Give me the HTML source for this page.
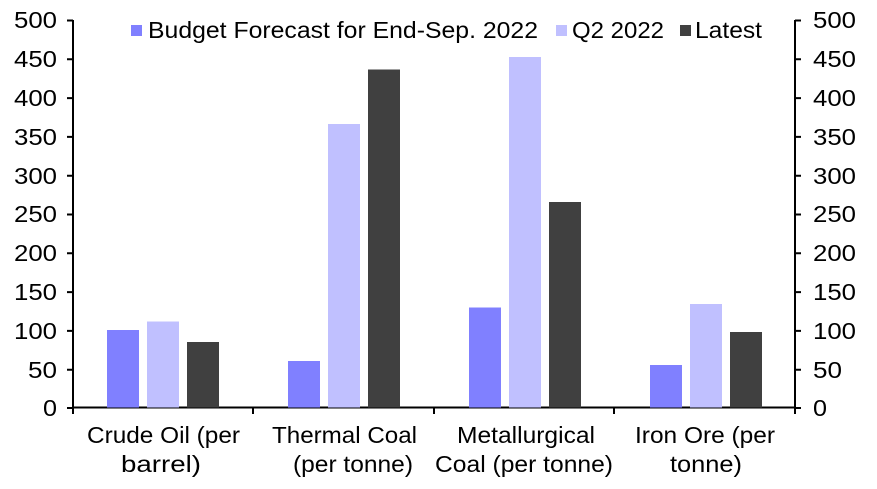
<!DOCTYPE html>
<html><head><meta charset="utf-8"><style>
body{margin:0;background:#fff}
svg{display:block;font-family:"Liberation Sans",Arial,sans-serif}
</style></head><body>
<svg width="877" height="489" xmlns="http://www.w3.org/2000/svg">
<g stroke="#000" stroke-width="2" fill="none">
<line x1="73" y1="20" x2="73" y2="408"/>
<line x1="795" y1="20" x2="795" y2="408"/>
<line x1="72" y1="407.5" x2="796" y2="407.5"/>
<path d="M67 20.5H73M67 59.3H73M67 98.1H73M67 136.9H73M67 175.7H73M67 214.5H73M67 253.3H73M67 292.1H73M67 330.9H73M67 369.7H73M67 408H73"/>
<path d="M795 20.5H801M795 59.3H801M795 98.1H801M795 136.9H801M795 175.7H801M795 214.5H801M795 253.3H801M795 292.1H801M795 330.9H801M795 369.7H801M795 408H801"/>
<path d="M73 408V414M253 408V414M434 408V414M614 408V414M795 408V414"/>
</g>
<g font-size="23" fill="#000">
<g text-anchor="end">
<text x="57" y="28" textLength="43" lengthAdjust="spacingAndGlyphs">500</text><text x="57" y="67" textLength="43" lengthAdjust="spacingAndGlyphs">450</text><text x="57" y="106" textLength="43" lengthAdjust="spacingAndGlyphs">400</text><text x="57" y="145" textLength="43" lengthAdjust="spacingAndGlyphs">350</text><text x="57" y="184" textLength="43" lengthAdjust="spacingAndGlyphs">300</text><text x="57" y="222" textLength="43" lengthAdjust="spacingAndGlyphs">250</text><text x="57" y="261" textLength="43" lengthAdjust="spacingAndGlyphs">200</text><text x="57" y="300" textLength="43" lengthAdjust="spacingAndGlyphs">150</text><text x="57" y="339" textLength="43" lengthAdjust="spacingAndGlyphs">100</text><text x="57" y="378" textLength="29" lengthAdjust="spacingAndGlyphs">50</text><text x="57" y="416" textLength="14" lengthAdjust="spacingAndGlyphs">0</text>
</g>
<g>
<text x="813" y="28" textLength="43" lengthAdjust="spacingAndGlyphs">500</text><text x="813" y="67" textLength="43" lengthAdjust="spacingAndGlyphs">450</text><text x="813" y="106" textLength="43" lengthAdjust="spacingAndGlyphs">400</text><text x="813" y="145" textLength="43" lengthAdjust="spacingAndGlyphs">350</text><text x="813" y="184" textLength="43" lengthAdjust="spacingAndGlyphs">300</text><text x="813" y="222" textLength="43" lengthAdjust="spacingAndGlyphs">250</text><text x="813" y="261" textLength="43" lengthAdjust="spacingAndGlyphs">200</text><text x="813" y="300" textLength="43" lengthAdjust="spacingAndGlyphs">150</text><text x="813" y="339" textLength="43" lengthAdjust="spacingAndGlyphs">100</text><text x="813" y="378" textLength="29" lengthAdjust="spacingAndGlyphs">50</text><text x="813" y="416" textLength="14" lengthAdjust="spacingAndGlyphs">0</text>
</g>
<text x="87" y="443" textLength="153" lengthAdjust="spacingAndGlyphs">Crude Oil (per</text><text x="121" y="472" textLength="80" lengthAdjust="spacingAndGlyphs">barrel)</text>
<text x="272" y="443" textLength="145" lengthAdjust="spacingAndGlyphs">Thermal Coal</text><text x="293" y="472" textLength="120" lengthAdjust="spacingAndGlyphs">(per tonne)</text>
<text x="457" y="443" textLength="138" lengthAdjust="spacingAndGlyphs">Metallurgical</text><text x="435" y="472" textLength="178" lengthAdjust="spacingAndGlyphs">Coal (per tonne)</text>
<text x="635" y="443" textLength="140" lengthAdjust="spacingAndGlyphs">Iron Ore (per</text><text x="670" y="472" textLength="72" lengthAdjust="spacingAndGlyphs">tonne)</text>
<rect x="131" y="25" width="11" height="11" fill="#8080ff"/><text x="148" y="38" textLength="390" lengthAdjust="spacingAndGlyphs">Budget Forecast for End-Sep. 2022</text>
<rect x="556" y="25" width="11" height="11" fill="#c0c0ff"/><text x="572" y="38" textLength="92" lengthAdjust="spacingAndGlyphs">Q2 2022</text>
<rect x="680" y="25" width="11" height="11" fill="#404040"/><text x="695" y="38" textLength="67" lengthAdjust="spacingAndGlyphs">Latest</text>
</g>
<g>
<rect x="107" y="330" width="32" height="77.5" fill="#8080ff"/>
<rect x="147" y="321.5" width="32" height="86" fill="#c0c0ff"/>
<rect x="187" y="342" width="32" height="65.5" fill="#404040"/>
<rect x="288" y="361" width="32" height="46.5" fill="#8080ff"/>
<rect x="328" y="124" width="32" height="283.5" fill="#c0c0ff"/>
<rect x="368" y="69.5" width="32" height="338" fill="#404040"/>
<rect x="469" y="307.5" width="32" height="100" fill="#8080ff"/>
<rect x="509" y="57" width="32" height="350.5" fill="#c0c0ff"/>
<rect x="549" y="202" width="32" height="205.5" fill="#404040"/>
<rect x="650" y="365" width="32" height="42.5" fill="#8080ff"/>
<rect x="690" y="304" width="32" height="103.5" fill="#c0c0ff"/>
<rect x="730" y="332" width="32" height="75.5" fill="#404040"/>
</g>
</svg>
</body></html>
